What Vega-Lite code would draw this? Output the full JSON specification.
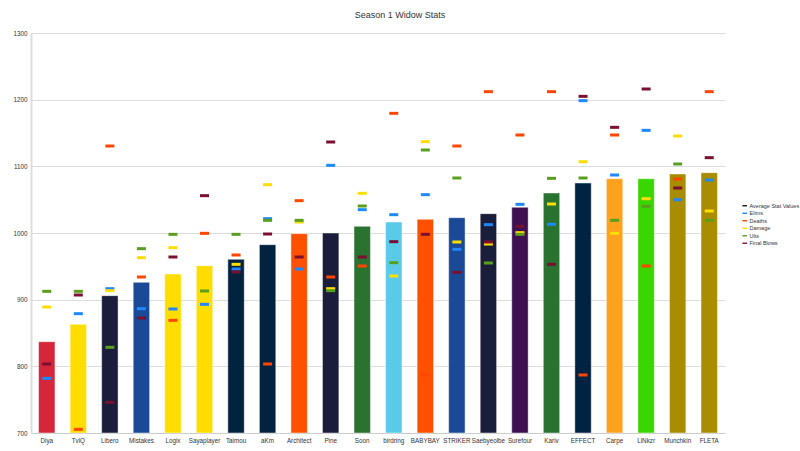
{
  "$schema": "https://vega.github.io/schema/vega-lite/v6.json",
  "autosize": "none",
  "width": 694,
  "height": 400,
  "padding": {"left": 31, "top": 33, "right": 75, "bottom": 18},
  "background": "#ffffff",
  "title": {"text": "Season 1 Widow Stats", "fontSize": 9, "font": "Liberation Sans", "fontWeight": "normal", "color": "#333333", "anchor": "middle", "dx": 22, "offset": 10},
  "config": {
    "view": {"stroke": null},
    "font": "Liberation Sans",
    "axis": {"labelFont": "Liberation Sans", "labelColor": "#333333", "labelFontSize": 6.3, "tickColor": "#dddddd", "domainColor": "#dddddd", "gridColor": "#dddddd"}
  },
  "data": {"values": [
    {"player": "Diya", "avg": 837, "color": "#d4283a", "Elims": 782, "Deaths": null, "Damage": 889, "Ults": 912.5, "Final Blows": 803.5},
    {"player": "TviQ", "avg": 863, "color": "#ffdd00", "Elims": 879, "Deaths": 705.5, "Damage": 850, "Ults": 912.5, "Final Blows": 907},
    {"player": "Libero", "avg": 906, "color": "#1b1e3a", "Elims": 916.5, "Deaths": 1130.5, "Damage": 913.5, "Ults": 828.5, "Final Blows": 746},
    {"player": "Mistakes", "avg": 926, "color": "#1a4a96", "Elims": 886.5, "Deaths": 934, "Damage": 963, "Ults": 976.5, "Final Blows": 872.5},
    {"player": "Logix", "avg": 938.5, "color": "#ffdd00", "Elims": 886, "Deaths": 869, "Damage": 978, "Ults": 998, "Final Blows": 964},
    {"player": "Sayaplayer", "avg": 951, "color": "#ffdd00", "Elims": 893, "Deaths": 999.5, "Damage": 930, "Ults": 913, "Final Blows": 1056},
    {"player": "Taimou", "avg": 960.5, "color": "#022340", "Elims": 946, "Deaths": 967, "Damage": 953, "Ults": 998, "Final Blows": 941.5},
    {"player": "aKm", "avg": 982.5, "color": "#022340", "Elims": 1021.5, "Deaths": 803.5, "Damage": 1072.5, "Ults": 1019, "Final Blows": 998.5},
    {"player": "Architect", "avg": 999, "color": "#ff5000", "Elims": 946, "Deaths": 1048.5, "Damage": 1016.5, "Ults": 1019, "Final Blows": 964},
    {"player": "Pine", "avg": 1000, "color": "#1b1e3a", "Elims": 1101.5, "Deaths": 934, "Damage": 916.5, "Ults": 913.5, "Final Blows": 1136.5},
    {"player": "Soon", "avg": 1010, "color": "#2a7230", "Elims": 1035, "Deaths": 950.5, "Damage": 1059.5, "Ults": 1040.5, "Final Blows": 964},
    {"player": "birdring", "avg": 1016.5, "color": "#59cbe8", "Elims": 1027.5, "Deaths": 1179.5, "Damage": 935.5, "Ults": 955.5, "Final Blows": 987},
    {"player": "BABYBAY", "avg": 1020.5, "color": "#ff5000", "Elims": 1057.5, "Deaths": 787, "Damage": 1137, "Ults": 1124.5, "Final Blows": 998},
    {"player": "STRIKER", "avg": 1023, "color": "#1a4a96", "Elims": 975.5, "Deaths": 1130.5, "Damage": 986.5, "Ults": 1082.5, "Final Blows": 941},
    {"player": "Saebyeolbe", "avg": 1029, "color": "#1b1e3a", "Elims": 1012.5, "Deaths": 1212, "Damage": 983.5, "Ults": 955, "Final Blows": 986.5},
    {"player": "Surefour", "avg": 1038.5, "color": "#3c1051", "Elims": 1043, "Deaths": 1147, "Damage": 1000.5, "Ults": 998, "Final Blows": 1010},
    {"player": "Kariv", "avg": 1060, "color": "#2a7230", "Elims": 1013, "Deaths": 1212, "Damage": 1043.5, "Ults": 1082, "Final Blows": 953},
    {"player": "EFFECT", "avg": 1075, "color": "#022340", "Elims": 1198.5, "Deaths": 787, "Damage": 1107, "Ults": 1082.5, "Final Blows": 1205},
    {"player": "Carpe", "avg": 1081.5, "color": "#ffa01e", "Elims": 1087, "Deaths": 1147, "Damage": 999.5, "Ults": 1019, "Final Blows": 1158.5},
    {"player": "LiNkzr", "avg": 1081.5, "color": "#3ad600", "Elims": 1154, "Deaths": 950.5, "Damage": 1051.5, "Ults": 1040, "Final Blows": 1216},
    {"player": "Munchkin", "avg": 1088.5, "color": "#aa8c00", "Elims": 1050, "Deaths": 1081, "Damage": 1145.5, "Ults": 1103.5, "Final Blows": 1067.5},
    {"player": "FLETA", "avg": 1090.5, "color": "#aa8c00", "Elims": 1079.5, "Deaths": 1212, "Damage": 1033, "Ults": 1019, "Final Blows": 1113}
  ]},
  "encoding": {
    "x": {"field": "player", "type": "nominal", "sort": null,
          "scale": {"paddingInner": 0.48, "paddingOuter": 0.24},
          "axis": {"title": null, "labelAngle": 0, "ticks": false, "labelPadding": 4, "labelOverlap": false, "domainColor": "#cccccc"}}
  },
  "layer": [
    {
      "mark": {"type": "bar", "stroke": "#ffffff", "strokeOpacity": 0.45, "strokeWidth": 1},
      "encoding": {
        "y": {"field": "avg", "type": "quantitative", "scale": {"domain": [700, 1300], "zero": false, "nice": false},
              "axis": {"title": null, "values": [700, 800, 900, 1000, 1100, 1200, 1300], "format": "d", "labelOverlap": false, "ticks": false, "labelPadding": 4, "grid": true, "domainColor": "#dddddd", "domainWidth": 2}},
        "y2": {"datum": 700},
        "fill": {"field": "color", "type": "nominal", "scale": null, "legend": null}
      }
    },
    {
      "transform": [{"fold": ["Elims", "Deaths", "Damage", "Ults", "Final Blows"], "as": ["stat", "value"]}],
      "mark": {"type": "tick", "size": 9, "thickness": 3, "opacity": 1},
      "encoding": {
        "y": {"field": "value", "type": "quantitative"},
        "color": {"field": "stat", "type": "nominal",
          "scale": {"domain": ["Average Stat Values", "Elims", "Deaths", "Damage", "Ults", "Final Blows"],
                    "range": ["#1a1a1a", "#1e88ff", "#ff4500", "#ffdd00", "#5a9e1e", "#7a1030"]},
          "legend": {"title": null, "orient": "none", "legendX": 711, "legendY": 170, "labelFontSize": 5.5, "labelColor": "#333333", "rowPadding": 0.5, "symbolSize": 22, "labelOffset": 2, "labelLimit": 80,
            "symbolType": "M-1,-0.3H1V0.3H-1Z", "symbolStrokeWidth": 0}
        }
      }
    }
  ]
}
